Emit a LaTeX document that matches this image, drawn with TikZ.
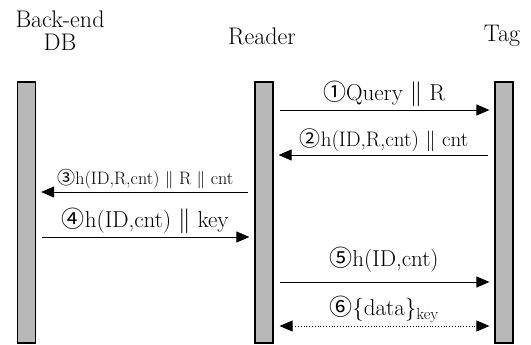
\documentclass[tikz,border=0pt]{standalone}
\usepackage{amsmath}
\usepackage{fontspec}
\usepackage{tikz}
\usetikzlibrary{arrows.meta}
\newfontfamily\circfont{Noto Sans CJK SC}

\begin{document}
\begin{tikzpicture}[x=1pt, y=-1pt,
    bar/.style={shape=rectangle, draw=black, line width=1.2pt, fill=black!28, minimum width=18pt, minimum height=261pt, inner sep=0pt},
    msg/.style={-{Triangle[length=13pt, width=11pt]}, line width=0.9pt, shorten <=6pt, shorten >=5pt},
    both/.style={{Triangle[length=13pt, width=11pt]}-{Triangle[length=13pt, width=11pt]}, line width=0.8pt, dotted, shorten <=6pt, shorten >=5pt},
    title/.style={font=\fontsize{24}{23}\selectfont, align=center},
    lbl/.style={font=\fontsize{23}{25}\selectfont, inner sep=3pt}]
    \useasboundingbox (0,0) rectangle (531,345);
    \node[title] (B) at (60,31) {Back-end\\DB};
    \node[title] (RT) at (262,36) {Reader};
    \node[title] (TT) at (502,36) {Tag};
    \node[bar] (DB) at (26.5,212.5) {};
    \node[bar] (Reader) at (264,212.5) {};
    \node[bar] (Tag) at (504,212.5) {};
    \coordinate (m1) at (0,110);
    \coordinate (m2) at (0,155);
    \coordinate (m3) at (0,192);
    \coordinate (m4) at (0,237);
    \coordinate (m5) at (0,282);
    \coordinate (m6) at (0,326);
    \draw [msg](Reader.east |- m1) -- node[lbl, above] {{\circfont ①}Query $\|$ R} (Tag.west |- m1);
    \draw [msg](Tag.west |- m2) -- node[lbl, above, font=\fontsize{21}{23}\selectfont] {{\circfont ②}h(ID,R,cnt) $\|$ cnt} (Reader.east |- m2);
    \draw [msg](Reader.west |- m3) -- node[lbl, above, font=\fontsize{18}{20}\selectfont] {{\circfont ③}h(ID,R,cnt) $\|$ R $\|$ cnt} (DB.east |- m3);
    \draw [msg](DB.east |- m4) -- node[lbl, above] {{\circfont ④}h(ID,cnt) $\|$ key} (Reader.west |- m4);
    \draw [msg](Reader.east |- m5) -- node[lbl, above, yshift=6pt] {{\circfont ⑤}h(ID,cnt)} (Tag.west |- m5);
    \draw [both](Reader.east |- m6) -- node[lbl, above] {{\circfont ⑥}\{data\}\textsubscript{key}} (Tag.west |- m6);
\end{tikzpicture}
\end{document}
